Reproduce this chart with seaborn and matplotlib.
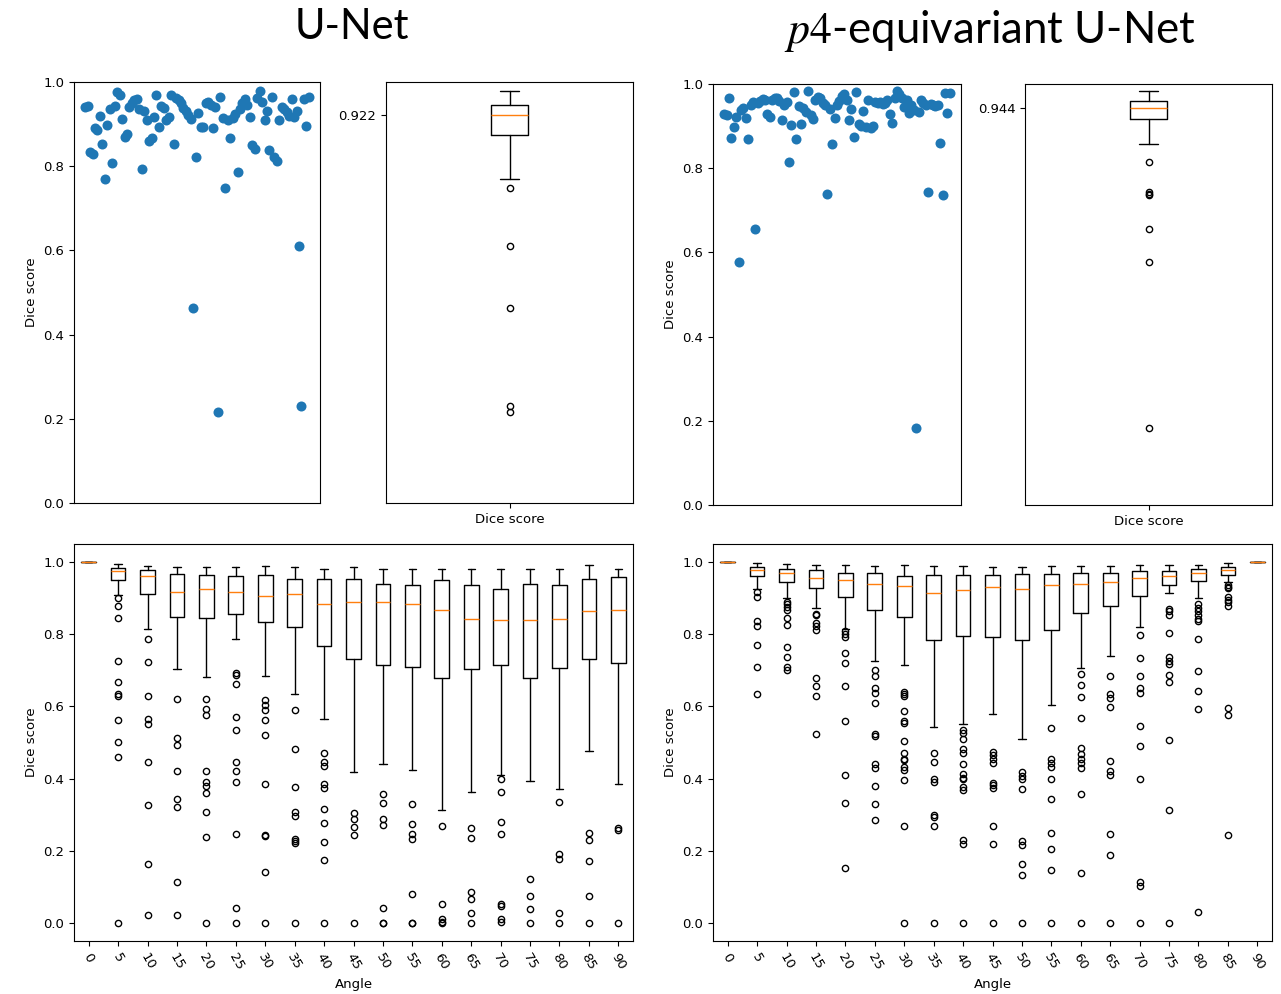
import numpy as np
import matplotlib
matplotlib.use("Agg")
import matplotlib.pyplot as plt
import seaborn as sns

sns.set_style("ticks", {"axes.edgecolor": "black", "xtick.color": "black",
                        "ytick.color": "black", "text.color": "black",
                        "axes.labelcolor": "black"})
plt.rcParams['font.family'] = ['DejaVu Sans']
plt.rcParams['font.size'] = 9.5
plt.rcParams['xtick.labelsize'] = 9.5
plt.rcParams['ytick.labelsize'] = 9.5

# Per-sample Dice scores (test set), in plotting order
unet_scores = [
    0.940, 0.944, 0.834, 0.829, 0.891, 0.886, 0.919, 0.853, 0.770, 0.898,
    0.936, 0.808, 0.943, 0.976, 0.969, 0.912, 0.869, 0.876, 0.940, 0.950,
    0.957, 0.960, 0.935, 0.793, 0.930, 0.910, 0.860, 0.867, 0.917, 0.969,
    0.893, 0.943, 0.938, 0.910, 0.917, 0.969, 0.853, 0.963, 0.957, 0.950,
    0.938, 0.930, 0.922, 0.912, 0.463, 0.822, 0.926, 0.893, 0.893, 0.950,
    0.953, 0.946, 0.891, 0.940, 0.216, 0.964, 0.915, 0.748, 0.910, 0.867,
    0.915, 0.925, 0.786, 0.935, 0.950, 0.960, 0.945, 0.917, 0.850, 0.841,
    0.962, 0.978, 0.953, 0.910, 0.931, 0.838, 0.964, 0.822, 0.812, 0.910,
    0.940, 0.936, 0.928, 0.920, 0.960, 0.917, 0.930, 0.611, 0.230, 0.960,
    0.896, 0.964,
]
p4_scores = [
    0.928, 0.926, 0.967, 0.872, 0.898, 0.922, 0.577, 0.938, 0.943, 0.919,
    0.869, 0.950, 0.957, 0.656, 0.955, 0.960, 0.964, 0.962, 0.929, 0.922,
    0.962, 0.967, 0.967, 0.960, 0.914, 0.950, 0.957, 0.815, 0.903, 0.981,
    0.869, 0.948, 0.905, 0.943, 0.933, 0.983, 0.926, 0.917, 0.962, 0.969,
    0.967, 0.955, 0.950, 0.739, 0.940, 0.857, 0.919, 0.950, 0.960, 0.972,
    0.976, 0.962, 0.914, 0.941, 0.874, 0.981, 0.905, 0.900, 0.936, 0.897,
    0.962, 0.895, 0.900, 0.957, 0.955, 0.957, 0.952, 0.955, 0.962, 0.929,
    0.907, 0.967, 0.984, 0.976, 0.967, 0.945, 0.962, 0.931, 0.950, 0.938,
    0.183, 0.933, 0.962, 0.955, 0.950, 0.744, 0.952, 0.950, 0.948, 0.950,
    0.860, 0.737, 0.979, 0.931, 0.979,
]

# Summary box of the per-sample scores: median, quartiles, whisker ends
unet_box = dict(med=0.922, q1=0.874, q3=0.945, whislo=0.770, whishi=0.978)
p4_box = dict(med=0.944, q1=0.916, q3=0.959, whislo=0.857, whishi=0.984)

# Dice score vs. rotation angle
angles = list(range(0, 95, 5))

unet_med = [1.000, 0.974, 0.960, 0.918, 0.925, 0.918, 0.907, 0.911, 0.883, 0.890,
            0.889, 0.883, 0.868, 0.843, 0.839, 0.839, 0.843, 0.863, 0.866]
unet_q1 = [1.000, 0.951, 0.911, 0.849, 0.846, 0.855, 0.833, 0.820, 0.766, 0.731,
           0.714, 0.709, 0.679, 0.704, 0.715, 0.679, 0.706, 0.731, 0.719]
unet_q3 = [1.000, 0.984, 0.977, 0.966, 0.963, 0.960, 0.963, 0.954, 0.952, 0.952,
           0.938, 0.936, 0.949, 0.936, 0.925, 0.938, 0.936, 0.952, 0.958]
unet_lo = [1.000, 0.908, 0.814, 0.704, 0.681, 0.786, 0.683, 0.634, 0.564, 0.418,
           0.440, 0.425, 0.313, 0.362, 0.409, 0.393, 0.372, 0.477, 0.385]
unet_hi = [1.000, 0.994, 0.988, 0.985, 0.985, 0.985, 0.988, 0.985, 0.982, 0.985,
           0.982, 0.982, 0.982, 0.982, 0.982, 0.982, 0.982, 0.992, 0.982]
unet_fliers = [
    [],
    [0.900, 0.877, 0.846, 0.727, 0.669, 0.635, 0.630, 0.562, 0.501, 0.459, 0.0],
    [0.786, 0.722, 0.628, 0.566, 0.552, 0.446, 0.326, 0.163, 0.022],
    [0.620, 0.513, 0.493, 0.421, 0.344, 0.320, 0.113, 0.022],
    [0.620, 0.593, 0.575, 0.421, 0.390, 0.379, 0.359, 0.307, 0.238, 0.0],
    [0.693, 0.688, 0.663, 0.570, 0.534, 0.446, 0.421, 0.390, 0.246, 0.041, 0.0],
    [0.617, 0.603, 0.589, 0.562, 0.520, 0.384, 0.244, 0.242, 0.141, 0.0],
    [0.589, 0.482, 0.377, 0.308, 0.297, 0.233, 0.227, 0.222, 0.0],
    [0.470, 0.446, 0.435, 0.385, 0.374, 0.316, 0.276, 0.224, 0.174, 0.0],
    [0.306, 0.287, 0.266, 0.243, 0.0],
    [0.356, 0.331, 0.289, 0.271, 0.041, 0.0, 0.0],
    [0.329, 0.273, 0.246, 0.232, 0.080, 0.0, 0.0],
    [0.269, 0.052, 0.011, 0.004, 0.0],
    [0.262, 0.235, 0.087, 0.066, 0.027, 0.0],
    [0.398, 0.363, 0.281, 0.246, 0.052, 0.046, 0.011, 0.002],
    [0.122, 0.075, 0.039, 0.0],
    [0.335, 0.191, 0.177, 0.028, 0.0],
    [0.250, 0.229, 0.171, 0.075, 0.0],
    [0.262, 0.258, 0.0],
]

p4_med = [1.000, 0.977, 0.969, 0.955, 0.949, 0.940, 0.933, 0.913, 0.922, 0.930,
          0.925, 0.936, 0.938, 0.944, 0.955, 0.960, 0.969, 0.977, 1.000]
p4_q1 = [1.000, 0.960, 0.946, 0.929, 0.904, 0.866, 0.849, 0.784, 0.796, 0.791,
         0.784, 0.811, 0.858, 0.877, 0.907, 0.936, 0.947, 0.963, 1.000]
p4_q3 = [1.000, 0.985, 0.980, 0.977, 0.969, 0.971, 0.960, 0.963, 0.963, 0.963,
         0.966, 0.966, 0.969, 0.971, 0.974, 0.974, 0.980, 0.985, 1.000]
p4_lo = [1.000, 0.925, 0.901, 0.872, 0.815, 0.726, 0.714, 0.542, 0.552, 0.579,
         0.509, 0.603, 0.706, 0.741, 0.820, 0.913, 0.900, 0.946, 1.000]
p4_hi = [1.000, 0.996, 0.994, 0.992, 0.992, 0.988, 0.991, 0.988, 0.988, 0.985,
         0.985, 0.988, 0.988, 0.988, 0.991, 0.991, 0.991, 0.996, 1.000]
p4_fliers = [
    [],
    [0.916, 0.904, 0.837, 0.824, 0.769, 0.708, 0.635],
    [0.890, 0.884, 0.876, 0.867, 0.844, 0.826, 0.764, 0.736, 0.709, 0.702],
    [0.856, 0.852, 0.831, 0.824, 0.812, 0.679, 0.656, 0.628, 0.523],
    [0.808, 0.800, 0.792, 0.748, 0.720, 0.656, 0.559, 0.410, 0.332, 0.153],
    [0.701, 0.683, 0.650, 0.636, 0.609, 0.523, 0.517, 0.440, 0.429, 0.379, 0.329, 0.285],
    [0.640, 0.633, 0.628, 0.586, 0.559, 0.554, 0.504, 0.472, 0.455, 0.451, 0.431,
     0.425, 0.396, 0.269, 0.0],
    [0.472, 0.447, 0.400, 0.390, 0.300, 0.293, 0.269, 0.0],
    [0.536, 0.525, 0.511, 0.481, 0.470, 0.440, 0.414, 0.401, 0.398, 0.378, 0.368,
     0.229, 0.218, 0.0],
    [0.475, 0.464, 0.453, 0.442, 0.389, 0.381, 0.375, 0.269, 0.218, 0.0],
    [0.419, 0.407, 0.398, 0.372, 0.227, 0.215, 0.163, 0.133, 0.0],
    [0.540, 0.455, 0.442, 0.431, 0.398, 0.343, 0.249, 0.206, 0.146, 0.0],
    [0.689, 0.659, 0.625, 0.567, 0.484, 0.467, 0.453, 0.442, 0.430, 0.356, 0.138, 0.0],
    [0.683, 0.635, 0.622, 0.598, 0.448, 0.421, 0.409, 0.246, 0.188, 0.0],
    [0.797, 0.733, 0.683, 0.650, 0.636, 0.545, 0.490, 0.399, 0.114, 0.103, 0.0],
    [0.871, 0.863, 0.853, 0.803, 0.737, 0.725, 0.717, 0.687, 0.667, 0.507, 0.313, 0.0],
    [0.884, 0.872, 0.863, 0.854, 0.842, 0.838, 0.786, 0.697, 0.644, 0.592, 0.031],
    [0.936, 0.932, 0.927, 0.904, 0.895, 0.888, 0.878, 0.596, 0.575, 0.244],
    [],
]

BLUE = '#1f77b4'
ORANGE = '#ff7f0e'
BOX_KW = dict(
    medianprops=dict(color=ORANGE, linewidth=1),
    boxprops=dict(color='black', linewidth=1),
    whiskerprops=dict(color='black', linewidth=1),
    capprops=dict(color='black', linewidth=1),
    flierprops=dict(marker='o', markersize=4.5, markerfacecolor='none',
                    markeredgecolor='black', markeredgewidth=1),
)


def scatter_panel(ax, scores):
    sns.scatterplot(x=np.arange(len(scores)), y=scores, ax=ax, s=52,
                    color=BLUE, linewidth=0)
    ax.set_ylim(0, 1)
    ax.set_xticks([])
    ax.set_yticks(np.arange(0, 1.01, 0.2))
    ax.set_ylabel('Dice score')


def summary_panel(ax, scores, box):
    stats = dict(box)
    stats['fliers'] = [v for v in scores if v < box['whislo'] or v > box['whishi']]
    stats['label'] = 'Dice score'
    ax.bxp([stats], **BOX_KW)
    ax.set_ylim(0, 1)
    ax.set_yticks([box['med']])
    ax.set_yticklabels([f"{box['med']:.3f}"])


def angle_panel(ax, med, q1, q3, lo, hi, fliers):
    stats = [dict(med=m, q1=a, q3=b, whislo=l, whishi=h, fliers=f, label=str(ang))
             for m, a, b, l, h, f, ang in zip(med, q1, q3, lo, hi, fliers, angles)]
    ax.bxp(stats, **BOX_KW)
    ax.set_ylim(-0.05, 1.05)
    ax.set_yticks(np.arange(0, 1.01, 0.2))
    ax.tick_params(axis='x', labelrotation=-60)
    ax.set_xlabel('Angle')
    ax.set_ylabel('Dice score')


W, H = 1281, 994
fig = plt.figure(figsize=(W / 100, H / 100), dpi=100)


def px_axes(x0, y0, x1, y1):
    return fig.add_axes([x0 / W, 1 - y1 / H, (x1 - x0) / W, (y1 - y0) / H])


ax_tl = px_axes(74, 82, 320, 503)
ax_tlb = px_axes(386, 82, 633, 503)
ax_tr = px_axes(713, 84, 961, 505)
ax_trb = px_axes(1025, 84, 1272, 505)
ax_bl = px_axes(74, 544, 633, 941)
ax_br = px_axes(713, 544, 1272, 941)

scatter_panel(ax_tl, unet_scores)
summary_panel(ax_tlb, unet_scores, unet_box)
scatter_panel(ax_tr, p4_scores)
summary_panel(ax_trb, p4_scores, p4_box)
angle_panel(ax_bl, unet_med, unet_q1, unet_q3, unet_lo, unet_hi, unet_fliers)
angle_panel(ax_br, p4_med, p4_q1, p4_q3, p4_lo, p4_hi, p4_fliers)

fig.text(352 / W, 1 - 27 / H, 'U-Net', ha='center', va='center',
         fontsize=30, family=['Lato', 'DejaVu Sans'])
fig.text(990 / W, 1 - 31 / H, r'$p4$-equivariant U-Net', ha='center', va='center',
         fontsize=31.5, family=['Lato', 'DejaVu Sans'], math_fontfamily='stix')

fig.savefig('out.png', dpi=100)
